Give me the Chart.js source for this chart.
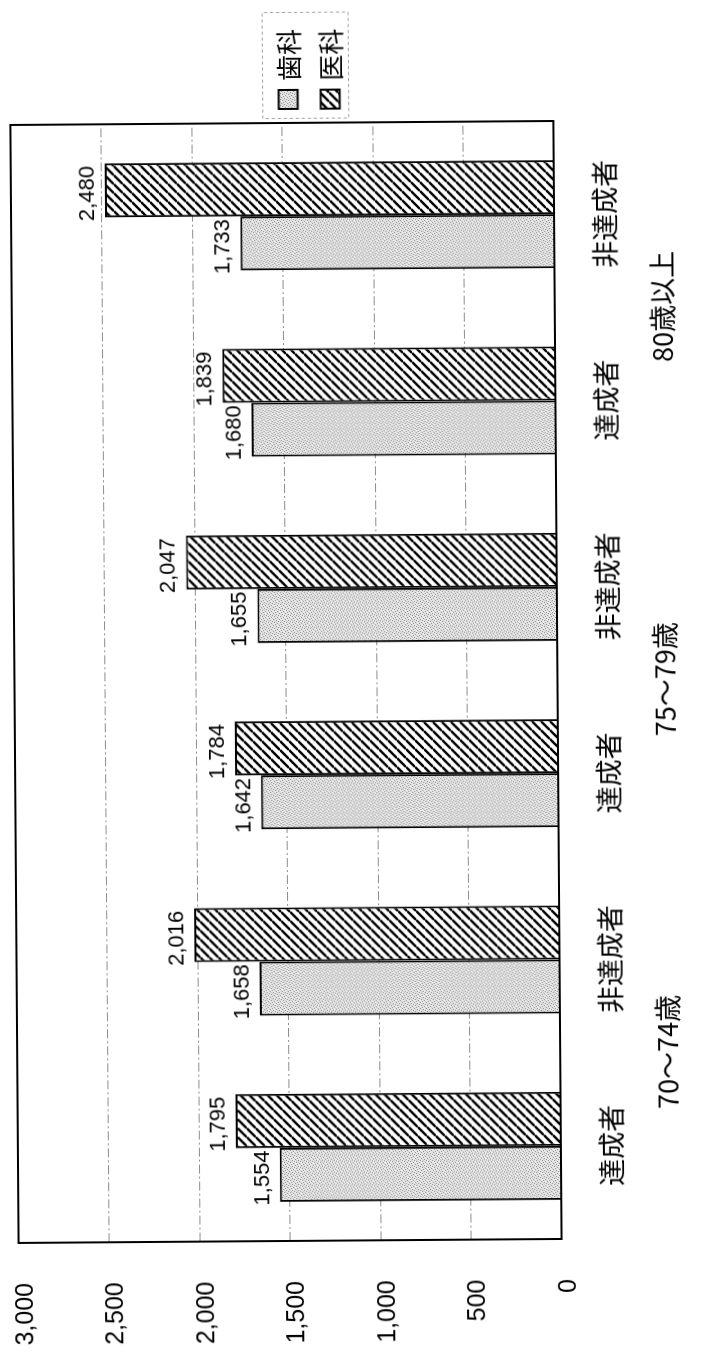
<!DOCTYPE html>
<html>
<head>
<meta charset="utf-8">
<script src="https://cdn.jsdelivr.net/npm/chart.js@4/dist/chart.umd.min.js"></script>
<style>
  html, body { margin: 0; padding: 0; background: #fff; overflow: hidden; width: 701px; height: 1370px; }
  /* the chart is laid out landscape and turned a quarter turn to stand upright on the page */
  #wrap { position: absolute; left: -334.5px; top: 334.5px; width: 1370px; height: 701px;
          transform-origin: 50% 50%; transform: rotate(-90.42deg); background: #fff; }
  canvas { display: block; }
</style>
</head>
<body>
<div id="wrap"><canvas id="c" width="1370" height="701"></canvas></div>
<script>
// categories (two per age band) and the age bands beneath them
const categories = ['達成者', '非達成者', '達成者', '非達成者', '達成者', '非達成者'];
const ageGroups = ['70〜74歳', '75〜79歳', '80歳以上'];
const seriesNames = ['歯科', '医科'];
// values per category
const dental  = [1554, 1658, 1642, 1655, 1680, 1733];
const medical = [1795, 2016, 1784, 2047, 1839, 2480];
// value axis
const valueMin = 0;
const valueMax = 3000;
const valueStep = 500;

const SANS = '"Liberation Sans", Arial, sans-serif';
const CJK = '"Noto Sans CJK JP", "Noto Sans", sans-serif';

// light grey stipple fill
function stipple() {
  const c = document.createElement('canvas');
  c.width = c.height = 6;
  const g = c.getContext('2d');
  g.fillStyle = '#e8e8e8';
  g.fillRect(0, 0, 6, 6);
  g.fillStyle = '#8a8a8a';
  [[0, 0], [3, 1], [1, 3], [4, 4], [5, 2], [2, 5]].forEach(([x, y]) => g.fillRect(x, y, 1, 1));
  g.fillStyle = '#c8c8c8';
  [[2, 2], [5, 5], [0, 4], [4, 0]].forEach(([x, y]) => g.fillRect(x, y, 1, 1));
  return g.createPattern(c, 'repeat');
}

// black diagonal hatch on white
function hatch() {
  const s = 9;
  const c = document.createElement('canvas');
  c.width = c.height = s;
  const g = c.getContext('2d');
  g.fillStyle = '#fff';
  g.fillRect(0, 0, s, s);
  g.strokeStyle = '#000';
  g.lineWidth = 2.4;
  for (const o of [-s, 0, s]) {
    g.beginPath();
    g.moveTo(o, s);
    g.lineTo(o + s, 0);
    g.stroke();
  }
  return g.createPattern(c, 'repeat');
}

const fills = [stipple(), hatch()];

const decor = {
  id: 'decor',
  afterDatasetsDraw(chart) {
    const { ctx, chartArea: a } = chart;
    ctx.save();
    // value above each bar
    ctx.font = '22px ' + SANS;
    ctx.fillStyle = '#000';
    ctx.textAlign = 'center';
    ctx.textBaseline = 'alphabetic';
    chart.data.datasets.forEach((ds, i) => {
      chart.getDatasetMeta(i).data.forEach((bar, j) => {
        ctx.fillText(ds.data[j].toLocaleString('en-US'), bar.x - 3, bar.y - 11);
      });
    });
    // plot frame
    ctx.strokeStyle = '#000';
    ctx.lineWidth = 2;
    ctx.strokeRect(a.left, a.top, a.width, a.height);
    ctx.restore();
  },
  afterDraw(chart) {
    const { ctx, chartArea: a } = chart;
    const bx = a.right + 4, by = 266, bw = 106, bh = 86;
    ctx.save();
    ctx.strokeStyle = '#9a9a9a';
    ctx.lineWidth = 1;
    ctx.setLineDash([3, 3]);
    ctx.strokeRect(bx + 0.5, by + 0.5, bw, bh);
    ctx.setLineDash([]);
    ctx.font = '26px ' + CJK;
    ctx.textAlign = 'left';
    ctx.textBaseline = 'middle';
    chart.data.datasets.forEach((ds, i) => {
      const cy = by + 26 + i * 42;
      ctx.fillStyle = ds.backgroundColor;
      ctx.fillRect(bx + 10, cy - 9.5, 19, 19);
      ctx.strokeStyle = '#000';
      ctx.lineWidth = 2;
      ctx.strokeRect(bx + 10, cy - 9.5, 19, 19);
      ctx.fillStyle = '#000';
      ctx.fillText(ds.label, bx + 38, cy + 1);
    });
    ctx.restore();
  }
};

new Chart(document.getElementById('c'), {
  type: 'bar',
  data: {
    labels: categories,
    datasets: [
      { label: seriesNames[0], data: dental, backgroundColor: fills[0], borderColor: '#000', borderWidth: 2 },
      { label: seriesNames[1], data: medical, backgroundColor: fills[1], borderColor: '#000', borderWidth: 2 }
    ]
  },
  options: {
    responsive: false,
    animation: false,
    devicePixelRatio: 1,
    layout: { padding: { left: 0, top: 14, right: 122, bottom: 0 } },
    datasets: { bar: { categoryPercentage: 0.58, barPercentage: 1 } },
    plugins: { legend: { display: false }, tooltip: { enabled: false } },
    scales: {
      x: {
        type: 'category',
        offset: true,
        weight: 0,
        grid: { display: false, drawTicks: false },
        border: { display: false },
        ticks: { padding: 35, color: '#000', font: { family: CJK, size: 27 }, autoSkip: false, maxRotation: 0 },
        afterFit(s) { s.height = 80; }
      },
      x2: {
        type: 'category',
        labels: ageGroups,
        position: 'bottom',
        offset: true,
        weight: 1,
        grid: { display: false, drawTicks: false },
        border: { display: false },
        ticks: { padding: 12, color: '#000', font: { family: CJK, size: 27 }, autoSkip: false, maxRotation: 0 },
        afterFit(s) { s.height = 64; }
      },
      y: {
        min: valueMin,
        max: valueMax,
        grid: { color: '#8c8c8c', lineWidth: 1, drawTicks: false },
        border: { display: false, dash: [9, 3, 2, 3] },
        ticks: {
          stepSize: valueStep,
          padding: 40,
          labelOffset: 7,
          color: '#000',
          font: { family: SANS, size: 25 },
          callback: v => v.toLocaleString('en-US')
        },
        afterFit(s) {
          s.width = 130;
          // keep the label gap from pushing the plot top down
          s.paddingTop = 8;
          s.paddingBottom = 8;
        }
      }
    }
  },
  plugins: [decor]
});
</script>
</body>
</html>
